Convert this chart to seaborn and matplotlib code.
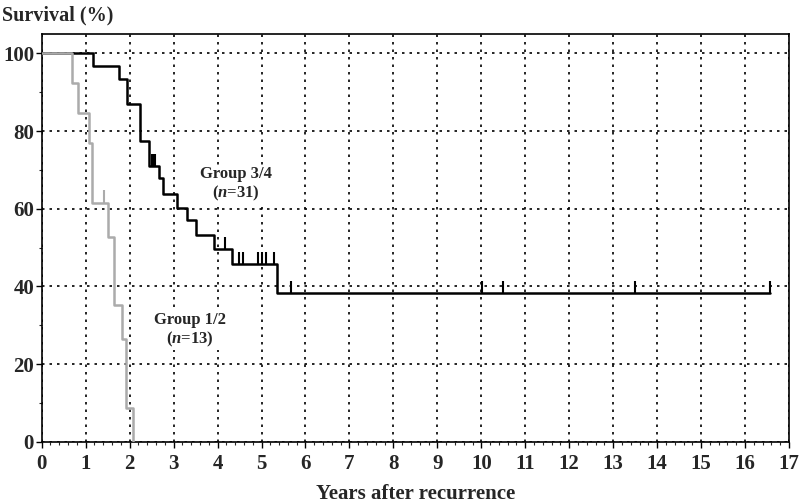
import numpy as np
import pandas as pd
import seaborn as sns
import matplotlib.pyplot as plt
from matplotlib.ticker import MultipleLocator

# Kaplan-Meier steps (years, survival %)
black_t = [0, 1.16, 1.76, 1.94, 2.24, 2.43, 2.66, 2.76, 3.07, 3.31, 3.50, 3.92, 4.34, 5.35, 16.57]
black_s = [100, 96.8, 93.5, 87.1, 77.4, 71.0, 67.8, 63.8, 60.1, 57.1, 53.2, 49.5, 45.7, 38.2, 38.2]
black_cens = [2.50, 2.54, 2.58, 4.16, 4.49, 4.59, 4.93, 5.01, 5.10, 5.28, 5.66, 10.02, 10.49, 13.50, 16.57]

gray_t = [0, 0.68, 0.82, 1.08, 1.15, 1.50, 1.65, 1.82, 1.92, 2.07]
gray_s = [100, 92.3, 84.6, 76.9, 61.5, 52.7, 35.2, 26.4, 8.8, 0]
gray_cens = [1.42]

x_ticks = list(range(0, 18))
y_ticks = [0, 20, 40, 60, 80, 100]

sns.set_style('ticks')
plt.rcParams['font.family'] = ['Liberation Serif', 'DejaVu Serif']
plt.rcParams['font.weight'] = 'bold'
plt.rcParams['mathtext.fontset'] = 'custom'
plt.rcParams['mathtext.it'] = 'Liberation Serif:italic:bold'
plt.rcParams['mathtext.rm'] = 'Liberation Serif:bold'

fig = plt.figure(figsize=(7.99, 5.03), dpi=100)
ax = fig.add_axes([0.0522, 0.1219, 0.9353, 0.8105])

black = pd.DataFrame({'t': black_t, 's': black_s})
gray = pd.DataFrame({'t': gray_t, 's': gray_s})

sns.lineplot(data=black, x='t', y='s', ax=ax, color='black', lw=1.8,
             drawstyle='steps-post', estimator=None, sort=False, zorder=3)
sns.lineplot(data=gray, x='t', y='s', ax=ax, color='#ababab', lw=1.8,
             drawstyle='steps-post', estimator=None, sort=False, zorder=4)


def step_value(ts, ss, x):
    i = np.searchsorted(ts, x, side='right') - 1
    return np.array(ss)[i]


bc = step_value(black_t, black_s, black_cens)
ax.vlines(black_cens, bc, bc + 3.2, color='black', lw=1.5, zorder=3)
gc = step_value(gray_t, gray_s, gray_cens)
ax.vlines(gray_cens, gc, gc + 3.2, color='#ababab', lw=1.5, zorder=4)

ax.set_xlim(0, 17)
ax.set_ylim(0, 105)
ax.set_xticks(x_ticks)
ax.set_yticks(y_ticks)
ax.xaxis.set_minor_locator(MultipleLocator(0.2))
ax.yaxis.set_minor_locator(MultipleLocator(10))
ax.tick_params(axis='both', which='major', direction='out', length=4, width=1,
               labelsize=15, pad=5, color='black')
ax.tick_params(axis='y', which='major', pad=1.5)
ax.tick_params(axis='both', which='minor', direction='out', length=2.5, width=0.8)
for lab in ax.get_xticklabels() + ax.get_yticklabels():
    lab.set_fontweight('bold')

ax.grid(True, which='major', linestyle=(0, (1.5, 3)), color='black', lw=1.2, zorder=1)
ax.set_axisbelow(True)
for sp in ax.spines.values():
    sp.set_visible(True)
    sp.set_color('black')
    sp.set_linewidth(1.2)

ax.set_xlabel('Years after recurrence', fontsize=15, fontweight='bold', labelpad=7)
ax.set_ylabel('')
fig.text(0.002, 0.99, 'Survival (%)', fontsize=14.5, fontweight='bold', ha='left', va='top')

box = dict(facecolor='white', edgecolor='none', pad=1)
ax.text(4.41, 66.3, 'Group 3/4\n($n$=31)', fontsize=12, fontweight='bold', ha='center',
        va='center', linespacing=1.1, bbox=box, zorder=5)
ax.text(3.37, 28.7, 'Group 1/2\n($n$=13)', fontsize=12, fontweight='bold', ha='center',
        va='center', linespacing=1.1, bbox=box, zorder=5)

fig.savefig('out.png', dpi=100)
